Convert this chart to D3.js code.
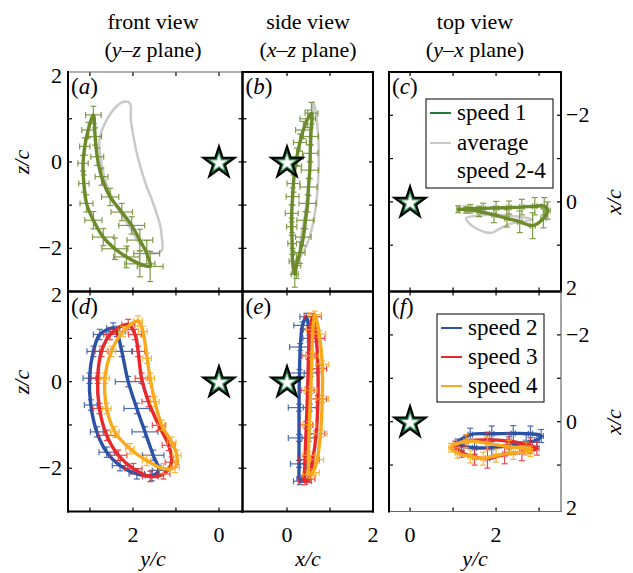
<!DOCTYPE html>
<html><head><meta charset="utf-8">
<script src="https://cdn.jsdelivr.net/npm/d3@7"></script>
<style>body{margin:0;background:#fff}</style>
</head><body>
<script>
// ---------------- DATA ----------------
// each point: [horizontal, vertical, horizontal error, vertical error]
// (a) front view, speed 1 : [y, z, ey, ez]
const frontSpeed1 = [[2.92,1.09,0.18,0.2],[3.04,0.74,0.15,0.18],[3.12,0.36,0.12,0.2],[3.16,-0.03,0.12,0.18],[3.14,-0.5,0.12,0.2],[3.08,-0.96,0.15,0.2],[2.92,-1.35,0.2,0.2],[2.69,-1.74,0.25,0.2],[2.42,-2.01,0.3,0.25],[2.15,-2.2,0.3,0.25],[1.84,-2.36,0.35,0.3],[1.6,-2.42,0.3,0.35],[1.68,-2.12,0.3,0.3],[1.84,-1.81,0.3,0.25],[2.03,-1.47,0.3,0.2],[2.26,-1.16,0.25,0.2],[2.53,-0.81,0.2,0.2],[2.73,-0.34,0.15,0.2],[2.83,0.12,0.15,0.2],[2.88,0.59,0.15,0.2]];
const frontAverage = [[2.19,1.4],[2.07,1.36],[2.05,0.98],[1.98,0.55],[1.91,0.2],[1.8,-0.2],[1.68,-0.57],[1.55,-0.9],[1.45,-1.19],[1.36,-1.5],[1.33,-1.74],[1.33,-2.05],[1.53,-2.11],[1.84,-1.89],[2.05,-1.55],[2.23,-1.27],[2.45,-0.9],[2.62,-0.5],[2.73,-0.03],[2.78,0.51],[2.65,0.9],[2.38,1.29]];
// (b) side view, speed 1 : [x, z, ex, ez]
const sideSpeed1 = [[0.57,1.13,0.15,0.25],[0.55,0.59,0.18,0.2],[0.54,0.2,0.18,0.2],[0.53,-0.19,0.2,0.2],[0.5,-0.58,0.2,0.2],[0.48,-0.96,0.2,0.2],[0.43,-1.35,0.2,0.2],[0.38,-1.74,0.18,0.2],[0.3,-2.1,0.12,0.25],[0.22,-2.4,0.1,0.3],[0.18,-2.6,0.08,0.3],[0.13,-2.3,0.08,0.3],[0.12,-1.89,0.1,0.25],[0.11,-1.5,0.12,0.2],[0.11,-1.19,0.15,0.2],[0.13,-0.8,0.15,0.2],[0.15,-0.5,0.15,0.2],[0.19,-0.1,0.15,0.2],[0.23,0.12,0.15,0.2],[0.3,0.45,0.15,0.2],[0.38,0.74,0.18,0.2],[0.48,1.0,0.18,0.2]];
const sideAverage = [[0.62,1.38],[0.7,0.9],[0.74,0.2],[0.72,-0.5],[0.66,-1.1],[0.55,-1.65],[0.4,-2.05],[0.3,-2.2],[0.32,-1.8],[0.42,-1.2],[0.5,-0.5],[0.55,0.2],[0.58,0.8]];
// (c) top view, speed 1 : [y, x, ey, ex]
const topSpeed1 = [[1.12,0.17,0.03,0.08],[1.4,0.16,0.04,0.1],[1.7,0.15,0.05,0.12],[2.0,0.14,0.05,0.15],[2.3,0.13,0.05,0.15],[2.6,0.12,0.05,0.18],[2.9,0.1,0.05,0.2],[3.12,0.1,0.06,0.2],[3.2,0.2,0.06,0.2],[3.1,0.38,0.06,0.22],[2.85,0.55,0.06,0.3],[2.55,0.46,0.05,0.25],[2.25,0.38,0.05,0.2],[1.95,0.3,0.05,0.18],[1.6,0.22,0.04,0.12],[1.3,0.18,0.03,0.08]];
const topAverage = [[1.3,0.38],[1.38,0.5],[1.55,0.62],[1.75,0.7],[1.92,0.71],[2.08,0.62],[2.35,0.5],[2.65,0.45],[2.85,0.4],[2.5,0.34],[2.0,0.3],[1.6,0.32]];
// (d) front view, speeds 2-4 : [y, z, ey, ez]
const frontSpeed2 = [[2.46,1.24,0.15,0.12],[2.77,1.09,0.15,0.12],[2.92,0.7,0.15,0.12],[3.01,0.08,0.15,0.12],[2.98,-0.54,0.15,0.12],[2.84,-1.16,0.15,0.12],[2.61,-1.63,0.18,0.12],[2.3,-1.94,0.18,0.12],[1.91,-2.13,0.18,0.12],[1.56,-2.17,0.15,0.12],[1.4,-2.05,0.15,0.12],[1.53,-1.7,0.25,0.12],[1.72,-1.16,0.3,0.12],[1.91,-0.62,0.3,0.12],[2.11,0.0,0.3,0.12],[2.26,0.7,0.25,0.12],[2.38,1.16,0.2,0.12]];
const frontSpeed3 = [[2.11,1.32,0.15,0.12],[2.53,1.09,0.15,0.12],[2.73,0.7,0.15,0.12],[2.82,0.08,0.15,0.12],[2.78,-0.62,0.15,0.12],[2.61,-1.24,0.2,0.12],[2.34,-1.7,0.2,0.12],[1.99,-2.01,0.2,0.12],[1.6,-2.19,0.18,0.12],[1.29,-2.13,0.15,0.12],[1.1,-1.86,0.15,0.12],[1.17,-1.47,0.15,0.12],[1.4,-1.01,0.15,0.12],[1.64,-0.46,0.15,0.12],[1.8,0.08,0.15,0.12],[1.88,0.7,0.15,0.12],[1.95,1.09,0.15,0.12]];
const frontSpeed4 = [[1.88,1.4,0.1,0.12],[2.23,1.16,0.1,0.12],[2.5,0.7,0.1,0.12],[2.65,0.08,0.1,0.12],[2.61,-0.62,0.1,0.12],[2.42,-1.16,0.1,0.12],[2.07,-1.55,0.1,0.12],[1.68,-1.82,0.1,0.12],[1.29,-2.01,0.1,0.12],[1.02,-1.98,0.1,0.12],[0.98,-1.7,0.1,0.12],[1.1,-1.4,0.1,0.12],[1.33,-1.01,0.1,0.12],[1.49,-0.46,0.1,0.12],[1.6,0.08,0.1,0.12],[1.67,0.54,0.1,0.12],[1.77,1.16,0.1,0.12]];
// (e) side view, speeds 2-4 : [x, z, ex, ez]
const sideSpeed2 = [[0.45,1.5,0.15,0.08],[0.52,1.0,0.15,0.08],[0.55,0.2,0.15,0.08],[0.53,-0.6,0.15,0.08],[0.5,-1.3,0.15,0.08],[0.45,-1.9,0.15,0.08],[0.38,-2.25,0.15,0.08],[0.3,-2.3,0.15,0.08],[0.28,-1.9,0.2,0.08],[0.28,-1.3,0.25,0.08],[0.28,-0.6,0.25,0.08],[0.29,0.2,0.25,0.08],[0.31,0.8,0.25,0.08],[0.36,1.3,0.2,0.08]];
const sideSpeed3 = [[0.6,1.5,0.2,0.08],[0.68,1.0,0.2,0.08],[0.72,0.3,0.2,0.08],[0.72,-0.4,0.2,0.08],[0.68,-1.2,0.2,0.08],[0.6,-1.8,0.15,0.08],[0.5,-2.25,0.15,0.08],[0.42,-2.3,0.15,0.08],[0.42,-1.8,0.15,0.08],[0.45,-1.0,0.15,0.08],[0.48,-0.2,0.15,0.08],[0.5,0.6,0.15,0.08],[0.53,1.2,0.15,0.08]];
const sideSpeed4 = [[0.65,1.55,0.15,0.08],[0.75,1.1,0.15,0.08],[0.82,0.4,0.15,0.08],[0.82,-0.4,0.15,0.08],[0.78,-1.2,0.15,0.08],[0.7,-1.8,0.15,0.08],[0.6,-2.1,0.15,0.08],[0.52,-2.15,0.15,0.08],[0.5,-1.7,0.15,0.08],[0.52,-1.0,0.15,0.08],[0.55,-0.2,0.15,0.08],[0.58,0.6,0.15,0.08],[0.6,1.2,0.15,0.08]];
// (f) top view, speeds 2-4 : [y, x, ey, ex]
const topSpeed2 = [[1.1,0.5,0.05,0.1],[1.4,0.3,0.05,0.15],[1.9,0.28,0.05,0.18],[2.4,0.27,0.05,0.18],[2.8,0.28,0.05,0.18],[3.05,0.33,0.05,0.15],[2.95,0.42,0.05,0.15],[2.7,0.48,0.05,0.18],[2.3,0.55,0.05,0.2],[1.9,0.6,0.05,0.2],[1.5,0.6,0.05,0.15],[1.2,0.55,0.05,0.12]];
const topSpeed3 = [[1.05,0.55,0.05,0.1],[1.3,0.45,0.05,0.15],[1.8,0.42,0.05,0.18],[2.3,0.45,0.05,0.18],[2.8,0.55,0.05,0.18],[2.95,0.62,0.05,0.15],[2.6,0.7,0.05,0.2],[2.2,0.75,0.05,0.22],[1.8,0.85,0.05,0.22],[1.5,0.82,0.05,0.18],[1.2,0.7,0.05,0.12]];
const topSpeed4 = [[0.95,0.6,0.05,0.1],[1.3,0.45,0.05,0.15],[1.8,0.5,0.05,0.15],[2.3,0.58,0.05,0.15],[2.7,0.62,0.05,0.15],[2.8,0.68,0.05,0.12],[2.4,0.72,0.05,0.15],[2.0,0.78,0.05,0.15],[1.7,0.85,0.05,0.15],[1.4,0.8,0.05,0.15],[1.1,0.72,0.05,0.12]];

const viewTitles = ["front view","side view","top view"];
const planeTitles = [["y","z"],["x","z"],["y","x"]];
const panelLetters = [["a","b","c"],["d","e","f"]];
const legendTop = ["speed 1","average","speed 2-4"];
const legendBottom = ["speed 2","speed 3","speed 4"];
const tickLabelsVert = [-2,0,2];
const tickLabelsFrontY = [2,0];
const tickLabelsSideX = [0,2];
const tickLabelsTopY = [0,2];

// ---------------- STYLE / LAYOUT ----------------
const W=633,H=573;
const FONT="'Liberation Serif','Times New Roman',serif";
const C={s1:"#6b8a2a", s1leg:"#1f7a35", avg:"#c9c9c9", s2:"#2c52a6", s3:"#e8282b", s4:"#f8aa1c"};
const svg=d3.select("body").append("svg").attr("width",W).attr("height",H)
  .style("font-family",FONT);

const rows=[{top:72,bottom:291.5},{top:291.5,bottom:511.5}];
const cols=[
  {left:68,right:242.5,hd:[3.51,-0.547],vd:[-3,2.083],hTicks:[3,2,1,0],vTicks:[-2,-1,0,1]},
  {left:242.5,right:373,hd:[-1.035,2.0],vd:[-3,2.083],hTicks:[0,1],vTicks:[-2,-1,0,1]},
  {left:389,right:561,hd:[-0.49,3.51],vd:[2.07,-3],hTicks:[0,1,2,3],vTicks:[-2,-1,0,1]}
];

const panelSeries=[
  [
    [{d:frontAverage,c:C.avg,err:false},{d:frontSpeed1,c:C.s1,err:true}],
    [{d:sideAverage,c:C.avg,err:false},{d:sideSpeed1,c:C.s1,err:true}],
    [{d:topAverage,c:C.avg,err:false},{d:topSpeed1,c:C.s1,err:true}]
  ],
  [
    [{d:frontSpeed2,c:C.s2,err:true},{d:frontSpeed3,c:C.s3,err:true},{d:frontSpeed4,c:C.s4,err:true}],
    [{d:sideSpeed2,c:C.s2,err:true},{d:sideSpeed3,c:C.s3,err:true},{d:sideSpeed4,c:C.s4,err:true}],
    [{d:topSpeed2,c:C.s2,err:true},{d:topSpeed3,c:C.s3,err:true},{d:topSpeed4,c:C.s4,err:true}]
  ]
];

const defs=svg.append("defs");

function star(g,cx,cy){
  g.append("path").attr("d",d3.symbol(d3.symbolStar,310)())
    .attr("transform",`translate(${cx},${cy+1})`)
    .attr("fill","#17723a").attr("stroke","#000").attr("stroke-width",2).attr("stroke-linejoin","miter");
  g.append("path").attr("d",d3.symbol(d3.symbolStar,85)())
    .attr("transform",`translate(${cx},${cy+1})`)
    .attr("fill","#fff").attr("stroke","#a9d0b2").attr("stroke-width",0.8);
}

rows.forEach((row,ri)=>{
  cols.forEach((col,ci)=>{
    const sx=d3.scaleLinear().domain(col.hd).range([col.left,col.right]);
    const sy=d3.scaleLinear().domain(col.vd).range([row.bottom,row.top]);
    const g=svg.append("g");
    const cid=`clip${ri}${ci}`;
    defs.append("clipPath").attr("id",cid).append("rect")
      .attr("x",col.left).attr("y",row.top).attr("width",col.right-col.left).attr("height",row.bottom-row.top);
    const pg=g.append("g").attr("clip-path",`url(#${cid})`);
    const line=d3.line().x(d=>sx(d[0])).y(d=>sy(d[1])).curve(d3.curveCatmullRomClosed.alpha(0.5));
    panelSeries[ri][ci].forEach(s=>{
      if(s.err){
        const eg=pg.append("g").attr("stroke",s.c).attr("stroke-width",1.2).attr("opacity",0.85);
        s.d.forEach(p=>{
          const x=sx(p[0]),y=sy(p[1]);
          const x1=sx(p[0]-p[2]),x2=sx(p[0]+p[2]);
          const y1=sy(p[1]-p[3]),y2=sy(p[1]+p[3]);
          eg.append("line").attr("x1",x1).attr("x2",x2).attr("y1",y).attr("y2",y);
          eg.append("line").attr("x1",x1).attr("x2",x1).attr("y1",y-3).attr("y2",y+3);
          eg.append("line").attr("x1",x2).attr("x2",x2).attr("y1",y-3).attr("y2",y+3);
          eg.append("line").attr("x1",x).attr("x2",x).attr("y1",y1).attr("y2",y2);
          eg.append("line").attr("x1",x-3).attr("x2",x+3).attr("y1",y1).attr("y2",y1);
          eg.append("line").attr("x1",x-3).attr("x2",x+3).attr("y1",y2).attr("y2",y2);
        });
      }
      pg.append("path").datum(s.d).attr("d",line).attr("fill","none")
        .attr("stroke",s.c).attr("stroke-width",s.err?3.4:2.5).attr("stroke-linejoin","round");
    });
    // star at origin
    star(g,sx(0),sy(0));
    // ticks
    const tg=g.append("g").attr("stroke","#000").attr("stroke-width",1.2);
    col.hTicks.forEach(t=>{
      const x=sx(t);
      tg.append("line").attr("x1",x).attr("x2",x).attr("y1",row.top).attr("y2",row.top+4);
      tg.append("line").attr("x1",x).attr("x2",x).attr("y1",row.bottom).attr("y2",row.bottom-4);
    });
    col.vTicks.forEach(t=>{
      const y=sy(t);
      tg.append("line").attr("x1",col.left).attr("x2",col.left+4).attr("y1",y).attr("y2",y);
      tg.append("line").attr("x1",col.right).attr("x2",col.right-4).attr("y1",y).attr("y2",y);
    });
    // frame
    const fr=g.append("g").attr("stroke","#000").attr("stroke-width",2).attr("stroke-linecap","square");
    const edges=[
      {x1:col.left,y1:row.top,x2:col.right,y2:row.top,light:ri===0&&ci===0},
      {x1:col.left,y1:row.bottom,x2:col.right,y2:row.bottom,light:ri===1&&ci===2},
      {x1:col.left,y1:row.top,x2:col.left,y2:row.bottom,light:false},
      {x1:col.right,y1:row.top,x2:col.right,y2:row.bottom,light:ri===1&&ci===2}
    ];
    edges.forEach(e=>{
      fr.append("line").attr("x1",e.x1).attr("y1",e.y1).attr("x2",e.x2).attr("y2",e.y2)
        .attr("stroke",e.light?"#666":"#000").attr("stroke-width",e.light?1.2:2);
    });
    // panel letter
    const lt=g.append("text").attr("x",col.left+3).attr("y",row.top+22).attr("font-size",23);
    lt.append("tspan").text("(");
    lt.append("tspan").attr("font-style","italic").text(panelLetters[ri][ci]);
    lt.append("tspan").text(")");

    // axis tick labels
    if(ci===0){
      tickLabelsVert.forEach(t=>{
        g.append("text").attr("x",col.left-6).attr("y",sy(t)+7).attr("text-anchor","end").attr("font-size",22)
          .text(t<0?"\u2212"+Math.abs(t):t);
      });
    }
    if(ci===2){
      tickLabelsVert.forEach(t=>{
        g.append("text").attr("x",col.right+5).attr("y",sy(t)+7).attr("text-anchor","start").attr("font-size",22)
          .text(t<0?"\u2212"+Math.abs(t):t);
      });
    }
    if(ri===1){
      const labs=ci===0?tickLabelsFrontY:(ci===1?tickLabelsSideX:tickLabelsTopY);
      labs.forEach(t=>{
        g.append("text").attr("x",sx(t)).attr("y",542).attr("text-anchor","middle").attr("font-size",22).text(t);
      });
    }
  });
});

// titles
const titleX=[153,308,475];
viewTitles.forEach((t,i)=>{
  svg.append("text").attr("x",titleX[i]).attr("y",29).attr("text-anchor","middle").attr("font-size",22).text(t);
  const tt=svg.append("text").attr("x",titleX[i]).attr("y",57).attr("text-anchor","middle").attr("font-size",22);
  tt.append("tspan").text("(");
  tt.append("tspan").attr("font-style","italic").text(planeTitles[i][0]);
  tt.append("tspan").text("\u2013");
  tt.append("tspan").attr("font-style","italic").text(planeTitles[i][1]);
  tt.append("tspan").text(" plane)");
});

// axis titles
function italicTitle(x,y,txt,rot){
  svg.append("text").attr("transform",`translate(${x},${y})`+(rot?" rotate(-90)":""))
    .attr("text-anchor","middle").attr("font-size",22).attr("font-style","italic").text(txt);
}
italicTitle(153,566,"y/c",false);
italicTitle(308,566,"x/c",false);
italicTitle(475,566,"y/c",false);
italicTitle(29,162,"z/c",true);
italicTitle(29,382,"z/c",true);
italicTitle(621,202,"x/c",true);
italicTitle(621,422,"x/c",true);

// legends
function legend(x,y,w,h,items,cols_,dy){
  const lg=svg.append("g");
  lg.append("rect").attr("x",x).attr("y",y).attr("width",w).attr("height",h).attr("fill","#fff").attr("stroke","#000").attr("stroke-width",1);
  items.forEach((t,i)=>{
    const yy=y+dy[i];
    if(cols_[i]) lg.append("line").attr("x1",x+4).attr("x2",x+25).attr("y1",yy).attr("y2",yy).attr("stroke",cols_[i]).attr("stroke-width",2);
    lg.append("text").attr("x",x+31).attr("y",yy+7).attr("font-size",23).text(t);
  });
}
legend(426,99,127,89,legendTop,[C.s1leg,C.avg,null],[14,44,72]);
legend(437,314,107,88,legendBottom,[C.s2,C.s3,C.s4],[14,43,72]);
</script>
</body></html>
